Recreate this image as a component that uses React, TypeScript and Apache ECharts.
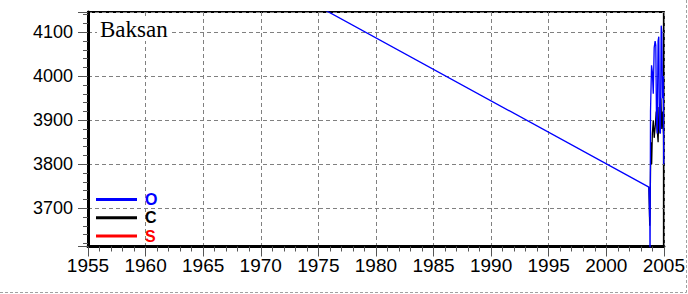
import React, { useEffect, useRef } from "react";
import * as echarts from "echarts";

const titleText = "Baksan";
const seriesNames = ["O", "C", "S"];
const seriesColors = ["#0000ff", "#000000", "#ff0000"];

// O (blue): long decline then oscillations
const oData: [number, number][] = [
  [1955, 4445],
  [2003.7, 3748],
  [2003.73, 3720],
  [2003.76, 3680],
  [2003.78, 3700],
  [2003.8, 3560],
  [2003.84, 3920],
  [2003.93, 4025],
  [2004.0, 4010],
  [2004.08, 3960],
  [2004.16, 4065],
  [2004.24, 4080],
  [2004.3, 4070],
  [2004.36, 3900],
  [2004.42, 3870],
  [2004.5, 4080],
  [2004.56, 4090],
  [2004.62, 3880],
  [2004.7, 3870],
  [2004.77, 4115],
  [2004.82, 4100],
  [2004.88, 3950],
  [2004.94, 4000],
  [2004.99, 3800],
];

// C (black)
const cData: [number, number][] = [
  [2003.7, 3748],
  [2003.74, 3700],
  [2003.77, 3660],
  [2003.8, 3690],
  [2003.84, 3780],
  [2003.88, 3850],
  [2003.94, 3800],
  [2004.0, 3870],
  [2004.08, 3900],
  [2004.16, 3860],
  [2004.26, 3890],
  [2004.34, 3920],
  [2004.42, 3880],
  [2004.5, 3850],
  [2004.58, 3930],
  [2004.66, 3870],
  [2004.74, 3950],
  [2004.82, 3880],
  [2004.9, 3920],
  [2004.97, 3870],
];

// S (red): no visible data
const sData: [number, number][] = [];

const xMin = 1955;
const xMax = 2005;
const xInterval = 5;
const yMin = 3613;
const yMax = 4146;

export default function App() {
  const ref = useRef<HTMLDivElement>(null);
  useEffect(() => {
    if (!ref.current) return;
    const chart = echarts.init(ref.current, undefined, { renderer: "svg" });
    const dataBySeries = [oData, cData, sData];
    const series = [2, 1, 0].map((i) => ({
      name: seriesNames[i],
      type: "line",
      data: dataBySeries[i],
      showSymbol: false,
      symbol: "none",
      clip: true,
      lineStyle: { color: seriesColors[i], width: 1.3 },
      itemStyle: { color: seriesColors[i] },
    }));
    const legendText = {
      fontFamily: "Liberation Sans",
      fontWeight: "bold",
      fontSize: 16,
      lineHeight: 15,
      padding: [0, 0, 0, 3],
    };
    chart.setOption({
      animation: false,
      backgroundColor: "#ffffff",
      title: {
        text: titleText,
        left: 97,
        top: 18,
        padding: [0, 3],
        backgroundColor: "#ffffff",
        textStyle: {
          fontFamily: "Liberation Serif",
          fontSize: 23,
          fontWeight: "normal",
          color: "#000",
        },
      },
      legend: {
        orient: "vertical",
        left: 96,
        top: 191.5,
        padding: 0,
        itemGap: 2.3,
        itemWidth: 41,
        itemHeight: 3,
        icon: "rect",
        data: seriesNames.map((n, i) => ({
          name: n,
          textStyle: { ...legendText, color: seriesColors[i] },
        })),
        textStyle: legendText,
      },
      grid: {
        left: 88,
        right: 21,
        top: 12,
        bottom: 47.5,
        show: true,
        borderColor: "#000",
        borderWidth: 2,
        backgroundColor: "transparent",
      },
      xAxis: {
        type: "value",
        min: xMin,
        max: xMax,
        interval: xInterval,
        axisLine: { show: true, onZero: false, lineStyle: { color: "#000", width: 3 } },
        axisTick: { show: true, length: 10, lineStyle: { color: "#555" } },
        minorTick: { show: true, splitNumber: 5, length: 5, lineStyle: { color: "#555" } },
        splitLine: { show: true, lineStyle: { color: "#808080", type: [4, 3], width: 1 } },
        axisLabel: {
          fontFamily: "Liberation Sans",
          fontSize: 19,
          color: "#000",
          margin: 9,
          formatter: (v: number) => String(v),
        },
      },
      yAxis: {
        type: "value",
        min: yMin,
        max: yMax,
        splitNumber: 5,
        axisLine: { show: true, onZero: false, lineStyle: { color: "#000", width: 3 } },
        axisTick: { show: true, length: 10, lineStyle: { color: "#555" } },
        minorTick: { show: true, splitNumber: 5, length: 5, lineStyle: { color: "#555" } },
        splitLine: { show: true, lineStyle: { color: "#808080", type: [4, 3], width: 1 } },
        axisLabel: {
          fontFamily: "Liberation Sans",
          fontSize: 18,
          color: "#000",
          margin: 15,
          showMinLabel: false,
          showMaxLabel: false,
          formatter: (v: number) => String(v),
        },
      },
      graphic: [
        {
          type: "line",
          shape: { x1: 686.5, y1: 0, x2: 686.5, y2: 292.5 },
          style: { stroke: "#a0a0a0", lineWidth: 1, lineDash: [3, 2] },
        },
        {
          type: "line",
          shape: { x1: 0, y1: 292.5, x2: 686.5, y2: 292.5 },
          style: { stroke: "#a0a0a0", lineWidth: 1, lineDash: [3, 2] },
        },
      ],
      series,
    });
    return () => chart.dispose();
  }, []);
  return (
    <div
      ref={ref}
      style={{ position: "fixed", left: 0, top: 0, width: 688, height: 294, background: "#fff" }}
    />
  );
}
